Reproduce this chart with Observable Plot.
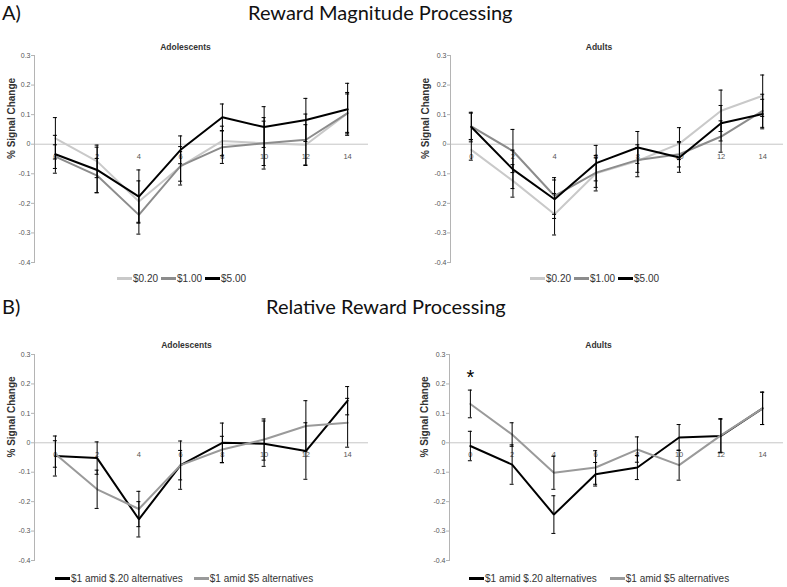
<!DOCTYPE html>
<html><head><meta charset="utf-8">
<script src="https://cdn.jsdelivr.net/npm/d3@7"></script>
<script src="https://cdn.jsdelivr.net/npm/@observablehq/plot@0.6"></script>
<style>
body{margin:0;background:#fff;}
#page{position:relative;width:787px;height:587px;overflow:hidden;font-family:"Liberation Sans",Arial,sans-serif;}
.panel{position:absolute;}
.head{position:absolute;font-family:Lato,"Open Sans",sans-serif;font-size:20px;color:#111;white-space:nowrap;line-height:20px;}
.legend{position:absolute;display:flex;align-items:center;font-size:10px;color:#333;white-space:nowrap;height:12px;font-family:"Liberation Sans",Arial,sans-serif;}
.legend .sw{display:inline-block;width:15px;height:3px;margin-right:1px;}
.legend .item{display:flex;align-items:center;}
</style></head><body><div id="page"></div>
<script>
// time points (x axis categories)
const timepoints = [0, 2, 4, 6, 8, 10, 12, 14];
const yTicks = [-0.4, -0.3, -0.2, -0.1, 0, 0.1, 0.2, 0.3];

// A) Reward magnitude — Adolescents
const adoA_020 = [0.02, -0.058, -0.194, -0.075, 0.011, 0.003, -0.002, 0.105];
const adoA_100 = [-0.042, -0.106, -0.239, -0.073, -0.01, 0.003, 0.015, 0.105];
const adoA_500 = [-0.034, -0.087, -0.177, -0.019, 0.091, 0.058, 0.082, 0.118];
const adoA_020_err = [0.07, 0.055, 0.07, 0.05, 0.05, 0.075, 0.068, 0.065];
const adoA_100_err = [0.04, 0.058, 0.065, 0.065, 0.055, 0.087, 0.087, 0.07];
const adoA_500_err = [0.064, 0.077, 0.09, 0.047, 0.045, 0.069, 0.073, 0.088];

// A) Reward magnitude — Adults
const aduA_020 = [-0.019, -0.124, -0.237, -0.098, -0.056, 0.002, 0.113, 0.164];
const aduA_100 = [0.06, -0.023, -0.175, -0.096, -0.053, -0.034, 0.026, 0.113];
const aduA_500 = [0.058, -0.085, -0.186, -0.064, -0.011, -0.045, 0.071, 0.102];
const aduA_020_err = [0.035, 0.055, 0.07, 0.06, 0.054, 0.054, 0.07, 0.07];
const aduA_100_err = [0.045, 0.073, 0.062, 0.05, 0.042, 0.043, 0.053, 0.056];
const aduA_500_err = [0.05, 0.065, 0.065, 0.06, 0.054, 0.05, 0.06, 0.05];

// B) Relative reward — Adolescents
const adoB_amid020 = [-0.045, -0.052, -0.26, -0.076, 0.0, -0.003, -0.028, 0.143];
const adoB_amid5 = [-0.038, -0.158, -0.225, -0.076, -0.023, 0.011, 0.057, 0.068];
const adoB_amid020_err = [0.068, 0.055, 0.06, 0.082, 0.067, 0.077, 0.096, 0.048];
const adoB_amid5_err = [0.045, 0.065, 0.06, 0.05, 0.045, 0.07, 0.086, 0.083];

// B) Relative reward — Adults
const aduB_amid020 = [-0.011, -0.074, -0.244, -0.107, -0.084, 0.018, 0.023, 0.117];
const aduB_amid5 = [0.132, 0.028, -0.102, -0.084, -0.023, -0.076, 0.025, 0.117];
const aduB_amid020_err = [0.05, 0.067, 0.064, 0.04, 0.041, 0.044, 0.057, 0.055];
const aduB_amid5_err = [0.047, 0.04, 0.056, 0.057, 0.043, 0.051, 0.057, 0.055];

// significance marker (adults, relative reward)
const sigTimes = [0];
const sigLabel = "*";

const magNames = ["$0.20", "$1.00", "$5.00"];
const magColors = ["#c9c9c9", "#8c8c8c", "#000000"];
const relNames = ["$1 amid $.20 alternatives", "$1 amid $5 alternatives"];
const relColors = ["#000000", "#9a9a9a"];

const page = document.getElementById("page");

function addHead(text, left, top) {
  const d = document.createElement("div");
  d.className = "head";
  d.textContent = text;
  d.style.left = left + "px";
  d.style.top = top + "px";
  page.appendChild(d);
  return d;
}

function addLegend(names, colors, left, top, gap) {
  const d = document.createElement("div");
  d.className = "legend";
  d.style.left = left + "px";
  d.style.top = top + "px";
  names.forEach((n, i) => {
    const it = document.createElement("span");
    it.className = "item";
    it.style.marginRight = gap + "px";
    const sw = document.createElement("span");
    sw.className = "sw";
    sw.style.background = colors[i];
    const tx = document.createElement("span");
    tx.textContent = n;
    it.appendChild(sw); it.appendChild(tx);
    d.appendChild(it);
  });
  page.appendChild(d);
}

function makePanel(o) {
  const rows = [];
  o.series.forEach(s => {
    s.values.forEach((v, i) => rows.push({t: timepoints[i], v, e: s.errors[i], s: s.name}));
  });
  const marks = [
    Plot.ruleY([0], {stroke: "#c6c6c6", strokeWidth: 1}),
    Plot.frame({anchor: "left", stroke: "#b4b4b4"}),
    Plot.axisY({ticks: yTicks, tickSize: 3, tickPadding: 1, tickFormat: d => d === 0 ? "0" : d.toFixed(1),
      fontSize: 7, fill: "#555", stroke: "#b4b4b4", label: null}),
    Plot.text(timepoints, {x: d => d, y: () => 0, dy: 12, fontSize: 7.5, fill: "#555"}),
    Plot.line(rows, {x: "t", y: "v", z: "s", stroke: "s", strokeWidth: 2, strokeLinejoin: "miter"}),
    Plot.ruleX(rows, {x: "t", y1: d => d.v - d.e, y2: d => d.v + d.e, stroke: "#000", strokeWidth: 1}),
    Plot.ruleY(rows, {y: d => d.v + d.e, x1: "t", x2: "t", insetLeft: -2, insetRight: -2, stroke: "#000", strokeWidth: 1}),
    Plot.ruleY(rows, {y: d => d.v - d.e, x1: "t", x2: "t", insetLeft: -2, insetRight: -2, stroke: "#000", strokeWidth: 1}),
    Plot.text([o.title], {frameAnchor: "top", dy: o.titleDy, dx: o.titleDx, fontWeight: "bold", fontSize: 8.5, fill: "#333"}),
    Plot.text(["% Signal Change"], {frameAnchor: "left", dx: o.labelDx, rotate: -90, fontWeight: "bold", fontSize: 10, fill: "#333"})
  ];
  if (o.star) {
    const s = o.series[o.star.series];
    const sd = o.star.times.map(t => {
      const i = timepoints.indexOf(t);
      return {t, y: s.values[i] + s.errors[i]};
    });
    marks.push(Plot.text(sd, {x: "t", y: "y", text: () => sigLabel, dy: -13, fontSize: 20, fill: "#000"}));
  }
  const p = Plot.plot({
    width: o.width, height: o.height,
    marginLeft: o.mL, marginRight: o.mR, marginTop: o.mT, marginBottom: o.mB,
    x: {domain: [-1, 15], axis: null},
    y: {domain: [-0.4, 0.3], axis: null},
    color: {domain: o.series.map(s => s.name), range: o.series.map(s => s.color)},
    style: {fontFamily: "'Liberation Sans', Arial, sans-serif", background: "transparent", overflow: "visible"},
    marks
  });
  p.classList.add("panel");
  p.style.left = o.left + "px";
  p.style.top = o.top + "px";
  page.appendChild(p);
}

addHead("A)", 2, 2);
addHead("Reward Magnitude Processing", 248, 2);
addHead("B)", 2, 296);
addHead("Relative Reward Processing", 266, 296);

makePanel({left: 0, top: 30, width: 390, height: 240, mL: 34, mR: 22, mT: 25, mB: 8,
  title: "Adolescents", titleDx: -16, titleDy: -12, labelDx: -23,
  series: [
    {name: magNames[0], values: adoA_020, errors: adoA_020_err, color: magColors[0]},
    {name: magNames[1], values: adoA_100, errors: adoA_100_err, color: magColors[1]},
    {name: magNames[2], values: adoA_500, errors: adoA_500_err, color: magColors[2]}
  ]});
makePanel({left: 390, top: 30, width: 397, height: 240, mL: 60, mR: 4, mT: 25, mB: 8,
  title: "Adults", titleDx: -18, titleDy: -12, labelDx: -25,
  series: [
    {name: magNames[0], values: aduA_020, errors: aduA_020_err, color: magColors[0]},
    {name: magNames[1], values: aduA_100, errors: aduA_100_err, color: magColors[1]},
    {name: magNames[2], values: aduA_500, errors: aduA_500_err, color: magColors[2]}
  ]});
makePanel({left: 0, top: 320, width: 390, height: 250, mL: 34, mR: 22, mT: 34, mB: 10,
  title: "Adolescents", titleDx: -15, titleDy: -12.5, labelDx: -23,
  series: [
    {name: relNames[0], values: adoB_amid020, errors: adoB_amid020_err, color: relColors[0]},
    {name: relNames[1], values: adoB_amid5, errors: adoB_amid5_err, color: relColors[1]}
  ]});
makePanel({left: 390, top: 320, width: 397, height: 250, mL: 59, mR: 4, mT: 34, mB: 10,
  title: "Adults", titleDx: -18, titleDy: -12.5, labelDx: -25,
  star: {series: 1, times: sigTimes},
  series: [
    {name: relNames[0], values: aduB_amid020, errors: aduB_amid020_err, color: relColors[0]},
    {name: relNames[1], values: aduB_amid5, errors: aduB_amid5_err, color: relColors[1]}
  ]});

addLegend(magNames, magColors, 117, 272, 3);
addLegend(magNames, magColors, 530, 272, 3);
addLegend(relNames, relColors, 55, 572, 11);
addLegend(relNames, relColors, 469, 572, 13);
</script></body></html>
